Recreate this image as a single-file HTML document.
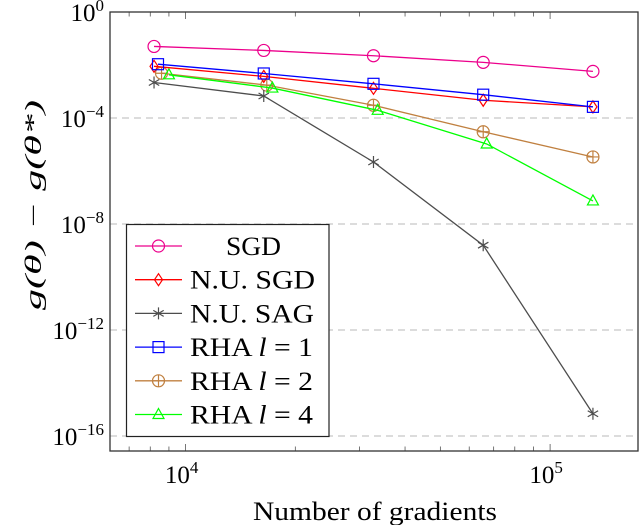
<!DOCTYPE html>
<html><head><meta charset="utf-8"><style>
html,body{margin:0;padding:0;background:#fff;}
svg{display:block;font-family:"Liberation Serif",serif;}
</style></head><body>
<svg id="chart" width="640" height="525" xmlns="http://www.w3.org/2000/svg">
<g id="grid"></g>
<g id="ticks"></g>
<g id="series"></g>
<rect x="110" y="12" width="528" height="439" fill="none" stroke="#333" stroke-width="1.3"/>
<text x="375" y="520" font-size="26" text-anchor="middle" textLength="244" lengthAdjust="spacingAndGlyphs">Number of gradients</text>
<text transform="translate(41,205) rotate(-90)" font-size="23" text-anchor="middle" font-style="italic" textLength="210" lengthAdjust="spacingAndGlyphs">g(θ) − g(θ*)</text>
<g id="legend"></g>
</svg>
<script>
const seriesNames = ["SGD","N.U. SGD","N.U. SAG","RHA l = 1","RHA l = 2","RHA l = 4"];
const xSGD = [8192,16384,32768,65536,131072];
const ySGD = [-1.3,-1.45,-1.65,-1.9,-2.24];
const xNUSGD = [8192,16384,32768,65536,131072];
const yNUSGD = [-2.05,-2.43,-2.88,-3.33,-3.58];
const xNUSAG = [8192,16384,32768,65536,131072];
const yNUSAG = [-2.66,-3.17,-5.66,-8.8,-15.16];
const xRHA1 = [8400,16384,32768,65536,131072];
const yRHA1 = [-1.97,-2.32,-2.71,-3.12,-3.58];
const xRHA2 = [8590,16700,32768,65536,131072];
const yRHA2 = [-2.31,-2.76,-3.52,-4.52,-5.47];
const xRHA4 = [9000,17300,33650,67000,131072];
const yRHA4 = [-2.37,-2.87,-3.71,-4.98,-7.13];
const yTickExps = [0,-4,-8,-12,-16];
const xTickExps = [4,5];
const colors = ["#ec008c","#ff0000","#4d4d4d","#0000ff","#c08040","#00ff00"];
const markers = ["circle","diamond","star","square","oplus","triangle"];
const legendWidths = [55,125,124,123,123,123];

const NS="http://www.w3.org/2000/svg";
function xs(v){return 185.6+(Math.log10(v)-4)*364.5;}
function ys(e){return 12+(0-e)*26.5;}
function mk(tag,attrs,parent){const e=document.createElementNS(NS,tag);for(const k in attrs)e.setAttribute(k,attrs[k]);parent.appendChild(e);return e;}
const grid=document.getElementById('grid'),ticks=document.getElementById('ticks'),ser=document.getElementById('series'),leg=document.getElementById('legend');

yTickExps.forEach(e=>{
  const y=ys(e);
  if(e!==0){const g=mk('line',{x1:110,x2:638,y1:y,y2:y,stroke:'#c8c8c8','stroke-dasharray':'7,5','stroke-width':1.2},grid);
  
  }
  const t=mk('text',{x:104,y:y+9,'font-size':25,'text-anchor':'end'},ticks);
  
  
  t.innerHTML='10<tspan dy="-10" font-size="17">'+(e===0?'0':'−'+(-e))+'</tspan>';
});
for(let d=3;d<=5;d++){for(let m=1;m<=9;m++){const v=m*Math.pow(10,d);const x=xs(v);if(x<110||x>638)continue;
  const len=m===1?7:4.5;
  const a=mk('line',{x1:x,x2:x,y1:451,y2:451-len,stroke:'#555','stroke-width':0.8},ticks);
  
  
  const b=mk('line',{x1:x,x2:x,y1:12,y2:12+len,stroke:'#555','stroke-width':0.8},ticks);
  
  }}
xTickExps.forEach(d=>{const x=xs(Math.pow(10,d));
  const t=mk('text',{x:x-4,y:483,'font-size':25,'text-anchor':'middle'},ticks);
  
  
  t.innerHTML='10<tspan dy="-10" font-size="17">'+d+'</tspan>';});

function marker(type,x,y,c,parent){
  const a={fill:'none',stroke:c,'stroke-width':1.2};let el;
  if(type==='circle'){el=mk('circle',Object.assign({cx:x,cy:y,r:6},a),parent);}
  else if(type==='diamond'){el=mk('polygon',Object.assign({points:`${x},${y-6} ${x+4},${y} ${x},${y+6} ${x-4},${y}`},a),parent);}
  else if(type==='square'){el=mk('rect',Object.assign({x:x-5.5,y:y-5.5,width:11,height:11},a),parent);}
  else if(type==='triangle'){el=mk('polygon',Object.assign({points:`${x},${y-6} ${x+5.5},${y+4} ${x-5.5},${y+4}`},a),parent);}
  else if(type==='oplus'){el=mk('path',Object.assign({d:`M${x-6},${y}a6,6 0 1,0 12,0a6,6 0 1,0 -12,0M${x-6},${y}h12M${x},${y-6}v12`},a),parent);}
  else {el=mk('path',Object.assign({d:`M${x},${y-6}v12M${x-5.2},${y-3}l10.4,6M${x-5.2},${y+3}l10.4,-6`},a),parent);}
  
  
}
const X=[xSGD,xNUSGD,xNUSAG,xRHA1,xRHA2,xRHA4],Y=[ySGD,yNUSGD,yNUSAG,yRHA1,yRHA2,yRHA4];
const order=[4,5,2,0,1,3];
order.forEach(i=>{
  const pts=X[i].map((v,j)=>xs(v)+','+ys(Y[i][j])).join(' ');
  const pl=mk('polyline',{points:pts,fill:'none',stroke:colors[i],'stroke-width':1.3},ser);
  
  
  X[i].forEach((v,j)=>marker(markers[i],xs(v),ys(Y[i][j]),colors[i],ser));
});
const lb=mk('rect',{x:126.5,y:224.5,width:202.5,height:212,fill:'#fff',stroke:'#222','stroke-width':1.2},leg);


seriesNames.forEach((n,i)=>{
  const y=246+i*33.7;
  const l=mk('line',{x1:135,x2:182,y1:y,y2:y,stroke:colors[i],'stroke-width':1.3},leg);
  
  
  marker(markers[i],158.5,y,colors[i],leg);
  const t=mk('text',{x:i===0?226:190,y:y+9,'font-size':26,textLength:legendWidths[i],lengthAdjust:'spacingAndGlyphs'},leg);
  
  
  if(n.startsWith('RHA')){t.innerHTML='RHA <tspan font-style="italic">l</tspan> = '+n.slice(-1);}else t.textContent=n;
});
</script>
</body></html>
